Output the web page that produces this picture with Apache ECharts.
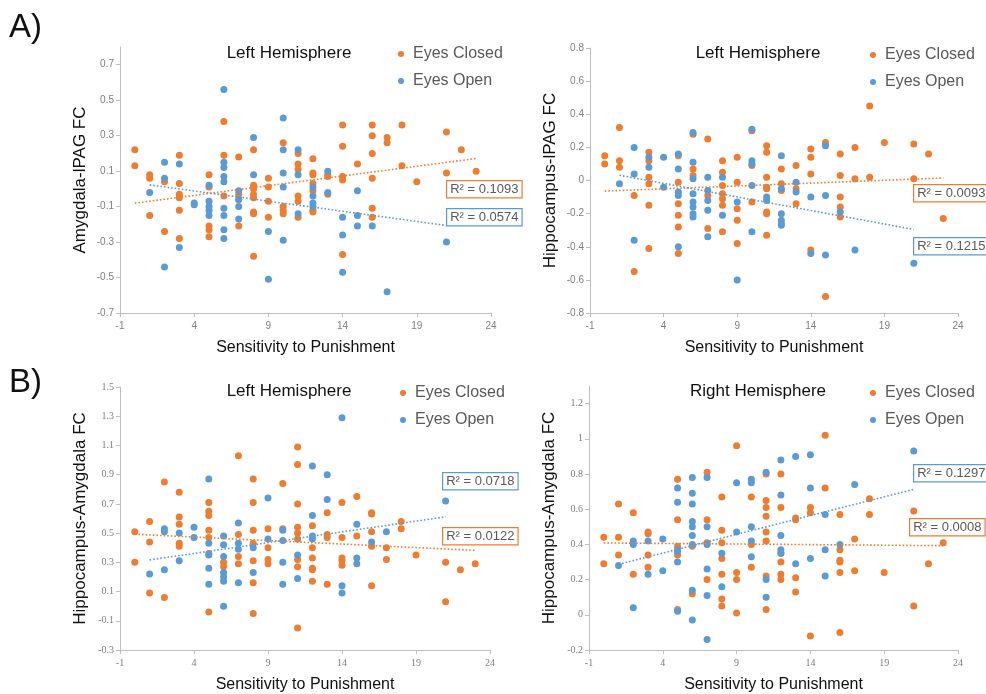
<!DOCTYPE html>
<html>
<head>
<meta charset="utf-8">
<script src="https://cdn.jsdelivr.net/npm/echarts@6/dist/echarts.min.js"></script>
<style>
  html, body { margin: 0; padding: 0; background: #fff; }
  #main { width: 986px; height: 694px; }
</style>
</head>
<body>
<div id="main"></div>
<script>
// ---- data: [sensitivity, FC] ----
var p1Closed = [[0,0.22],[0,0.13],[1,0.08],[1,0.06],[1,-0.15],[2,0.04],[2,-0.24],[3,0.19],[3,0.03],[3,-0.03],[3,-0.05],[3,-0.12],[3,-0.28],[5,0.08],[5,0.01],[5,-0.21],[5,-0.23],[5,-0.27],[6,0.38],[6,0.19],[6,-0.04],[7,0.18],[7,-0.03],[7,-0.06],[7,-0.21],[8,0.22],[8,0.02],[8,0],[8,-0.03],[8,-0.05],[8,-0.13],[8,-0.14],[8,-0.38],[9,0.06],[9,0.01],[9,-0.07],[9,-0.16],[10,0.26],[10,-0.1],[10,-0.12],[10,-0.14],[11,0.2],[11,0.14],[11,0.11],[11,-0.04],[11,-0.07],[11,-0.16],[12,0.17],[12,0.09],[12,0.08],[12,0.03],[12,-0.01],[12,-0.12],[12,-0.13],[13,0.08],[13,0.07],[13,-0.03],[14,0.36],[14,0.24],[14,0.07],[14,0.05],[14,-0.37],[15,0.14],[16,0.36],[16,0.3],[16,0.2],[16,0.06],[16,-0.11],[16,-0.16],[17,0.29],[17,0.26],[18,0.36],[18,0.13],[19,0.04],[21,0.32],[21,0.09],[22,0.22],[23,0.1]];
var p1Open = [[1,-0.02],[2,0.15],[2,0.06],[2,-0.44],[3,0.14],[3,-0.33],[4,-0.08],[4,-0.09],[5,0.02],[5,-0.07],[5,-0.1],[5,-0.12],[5,-0.15],[6,0.56],[6,0.15],[6,0.12],[6,0.07],[6,0.04],[6,-0.11],[6,-0.15],[6,-0.23],[6,-0.28],[7,-0.01],[7,-0.06],[7,-0.1],[7,-0.17],[8,0.29],[8,0.08],[9,-0.24],[9,-0.51],[10,0.4],[10,0.22],[10,0.09],[10,0.01],[10,-0.29],[11,0.22],[11,0.08],[11,-0.14],[12,0.01],[12,-0.04],[12,-0.08],[12,-0.1],[13,0.1],[13,-0.02],[14,-0.16],[14,-0.26],[14,-0.47],[15,-0.01],[15,-0.15],[15,-0.21],[16,-0.21],[17,-0.58],[21,-0.3]];

var p2Closed = [[0,0.15],[0,0.1],[1,0.32],[1,0.12],[1,0.08],[2,-0.09],[2,-0.55],[3,0.17],[3,0.12],[3,0.02],[3,-0.02],[3,-0.15],[3,-0.41],[5,0.15],[5,-0.01],[5,-0.14],[5,-0.21],[5,-0.28],[5,-0.44],[6,0.28],[6,0.07],[6,0.03],[7,0.25],[7,-0.09],[7,-0.29],[8,0.12],[8,0.05],[8,-0.03],[8,-0.08],[8,-0.11],[8,-0.15],[8,-0.31],[9,0.14],[9,-0.01],[9,-0.17],[9,-0.24],[9,-0.38],[10,0.3],[10,0.09],[10,-0.13],[11,0.21],[11,0.17],[11,0.02],[11,-0.04],[11,-0.05],[11,-0.19],[11,-0.2],[11,-0.33],[12,0.07],[12,-0.02],[12,-0.06],[12,-0.26],[13,0.09],[13,-0.05],[13,-0.14],[14,0.19],[14,0.14],[14,0.04],[14,-0.42],[15,0.23],[15,-0.7],[16,0.16],[16,0.03],[16,-0.1],[16,-0.16],[16,-0.22],[17,0.2],[17,0.01],[18,0.45],[18,0.02],[19,0.23],[21,0.22],[21,0.01],[22,0.16],[23,-0.23]];
var p2Open = [[1,-0.02],[2,0.2],[2,0.04],[2,-0.36],[3,0.14],[3,0.08],[4,0.14],[4,-0.04],[5,0.16],[5,0.07],[5,-0.07],[5,-0.09],[5,-0.4],[6,0.29],[6,0.11],[6,0.01],[6,-0.08],[6,-0.13],[6,-0.16],[6,-0.2],[6,-0.22],[7,0.02],[7,-0.06],[7,-0.12],[7,-0.18],[7,-0.34],[8,0.02],[8,-0.21],[9,-0.13],[9,-0.6],[10,0.31],[10,0.12],[10,0.1],[10,-0.03],[10,-0.31],[11,-0.1],[11,-0.12],[12,0.15],[12,-0.05],[12,-0.2],[12,-0.24],[12,-0.27],[13,-0.01],[13,-0.07],[14,-0.1],[14,-0.44],[15,0.21],[15,-0.09],[15,-0.45],[16,-0.19],[17,-0.42],[21,-0.5]];

var p3Closed = [[0,0.51],[0,0.3],[1,0.58],[1,0.44],[1,0.09],[2,0.85],[2,0.06],[3,0.78],[3,0.61],[3,0.56],[3,0.43],[3,0.41],[5,0.71],[5,0.65],[5,0.62],[5,0.52],[5,0.47],[5,0.36],[5,-0.04],[6,0.3],[6,0.27],[7,1.03],[7,0.49],[7,0.34],[7,0.29],[8,0.87],[8,0.71],[8,0.52],[8,0.43],[8,0.31],[8,0.16],[8,-0.05],[9,0.53],[9,0.4],[9,0.32],[9,0.29],[10,0.84],[10,0.53],[11,1.09],[11,0.97],[11,0.7],[11,0.54],[11,0.5],[11,0.46],[11,0.32],[11,0.27],[11,-0.15],[12,0.55],[12,0.4],[12,0.33],[12,0.26],[12,0.25],[12,0.17],[13,0.64],[13,0.49],[13,0.47],[13,0.15],[14,0.71],[14,0.47],[14,0.33],[14,0.31],[14,0.28],[15,0.75],[15,0.48],[16,0.64],[16,0.63],[16,0.51],[16,0.41],[16,0.14],[17,0.4],[17,0.32],[18,0.58],[18,0.53],[19,0.35],[21,0.3],[21,0.03],[22,0.25],[23,0.29]];
var p3Open = [[1,0.22],[2,0.53],[2,0.51],[2,0.25],[3,0.5],[3,0.31],[4,0.54],[4,0.47],[5,0.87],[5,0.43],[5,0.35],[5,0.26],[5,0.15],[6,0.48],[6,0.42],[6,0.34],[6,0.23],[6,0.2],[6,0.17],[6,0],[7,0.57],[7,0.43],[7,0.39],[7,0.16],[8,0.4],[8,0.23],[9,0.74],[9,0.46],[10,0.52],[10,0.45],[10,0.3],[10,0.15],[11,0.35],[11,0.19],[12,0.96],[12,0.62],[12,0.48],[12,0.46],[13,0.9],[13,0.73],[14,1.29],[14,0.14],[14,0.09],[15,0.56],[15,0.33],[15,0.29],[16,0.44],[17,0.51],[21,0.72]];

var p4Closed = [[0,0.44],[0,0.29],[1,0.63],[1,0.44],[1,0.34],[2,0.58],[2,0.23],[3,0.47],[3,0.46],[3,0.34],[3,0.27],[5,0.77],[5,0.54],[5,0.39],[5,0.34],[5,0.03],[6,0.39],[6,0.12],[7,0.81],[7,0.54],[7,0.41],[7,0.2],[8,0.67],[8,0.48],[8,0.41],[8,0.32],[8,0.23],[8,0.09],[8,0.05],[9,0.96],[9,0.24],[9,0.2],[9,0.01],[10,0.67],[10,0.4],[10,0.27],[11,0.8],[11,0.65],[11,0.61],[11,0.56],[11,0.47],[11,0.42],[11,0.22],[11,0.03],[12,0.8],[12,0.61],[12,0.35],[12,0.3],[12,0.23],[12,0.2],[13,0.55],[13,0.54],[13,0.21],[13,0.13],[14,0.61],[14,0.58],[14,-0.12],[15,1.02],[15,0.72],[16,0.57],[16,0.37],[16,0.31],[16,0.3],[16,0.24],[16,-0.1],[17,0.43],[17,0.25],[18,0.66],[18,0.57],[19,0.24],[21,0.59],[21,0.05],[22,0.29],[23,0.41]];
var p4Open = [[1,0.28],[2,0.42],[2,0.4],[2,0.04],[3,0.42],[3,0.23],[4,0.43],[4,0.25],[5,0.72],[5,0.64],[5,0.37],[5,0.36],[5,0.3],[5,0.02],[6,0.78],[6,0.69],[6,0.63],[6,0.53],[6,0.5],[6,0.45],[6,0.4],[6,0.14],[6,-0.03],[7,0.78],[7,0.5],[7,0.4],[7,0.26],[7,0.11],[7,-0.14],[8,0.35],[8,0.16],[9,0.75],[9,0.47],[10,0.77],[10,0.75],[10,0.5],[10,0.42],[10,0.33],[11,0.81],[11,0.2],[11,0.1],[12,0.88],[12,0.68],[12,0.45],[12,0.37],[12,0.35],[13,0.9],[13,0.29],[14,0.91],[14,0.72],[14,0.32],[15,0.57],[15,0.37],[15,0.22],[16,0.4],[17,0.74],[21,0.93]];

var r2Closed = ['0.1093', '0.0093', '0.0122', '0.0008'];
var r2Open = ['0.0574', '0.1215', '0.0718', '0.1297'];

// tick labels
var xTicks = [-1, 4, 9, 14, 19, 24];
var yTicks1 = [-0.7, -0.5, -0.3, -0.1, 0.1, 0.3, 0.5, 0.7];
var yTicks2 = [-0.8, -0.6, -0.4, -0.2, 0, 0.2, 0.4, 0.6, 0.8];
var yTicks3 = [-0.3, -0.1, 0.1, 0.3, 0.5, 0.7, 0.9, 1.1, 1.3, 1.5];
var yTicks4 = [-0.2, 0, 0.2, 0.4, 0.6, 0.8, 1, 1.2];

var ORANGE = '#ED7D31';
var BLUE = '#5B9BD5';
var SANS = '"Liberation Sans", Arial, sans-serif';
var SERIF = '"Liberation Serif", "DejaVu Serif", serif';

/** least squares line over the x range of the series (Excel linear trendline) **/
function trend(pts) {
	var n = pts.length, sx = 0, sy = 0, sxx = 0, sxy = 0, lo = Infinity, hi = -Infinity;
	pts.forEach(function (p) {
		sx += p[0]; sy += p[1]; sxx += p[0] * p[0]; sxy += p[0] * p[1];
		lo = Math.min(lo, p[0]); hi = Math.max(hi, p[0]);
	});
	var b = (n * sxy - sx * sy) / (n * sxx - sx * sx);
	var a = (sy - b * sx) / n;
	return [[lo, a + b * lo], [hi, a + b * hi]];
}

var panels = [
	{ grid: { left: 120, top: 47, width: 371, height: 266 }, yMin: -0.7, yMax: 0.8, yTicks: yTicks1,
	  yName: 'Amygdala-lPAG FC', title: 'Left Hemisphere', closed: p1Closed, open: p1Open, font: SANS,
	  legend: [398, 45], titlePos: [289, 45] },
	{ grid: { left: 590, top: 48, width: 368, height: 265 }, yMin: -0.8, yMax: 0.8, yTicks: yTicks2,
	  yName: 'Hippocampus-lPAG FC', title: 'Left Hemisphere', closed: p2Closed, open: p2Open, font: SANS,
	  legend: [870, 46], titlePos: [758, 45] },
	{ grid: { left: 120, top: 387, width: 370, height: 264 }, yMin: -0.3, yMax: 1.5, yTicks: yTicks3,
	  yName: 'Hippocampus-Amygdala FC', title: 'Left Hemisphere', closed: p3Closed, open: p3Open, font: SERIF,
	  legend: [400, 384], titlePos: [289, 383] },
	{ grid: { left: 589, top: 386, width: 369, height: 265 }, yMin: -0.2, yMax: 1.3, yTicks: yTicks4,
	  yName: 'Hippocampus-Amygdala FC', title: 'Right Hemisphere', closed: p4Closed, open: p4Open, font: SERIF,
	  legend: [870, 384], titlePos: [758, 383] }
];

// R² boxes: [closed box left/top, open box left/top]
var r2Pos = [
	[[446, 180], [446, 208]],
	[[913, 184], [913, 237]],
	[[442, 527], [442, 472]],
	[[909, 518], [913, 464]]
];

var gray = '#bfbfbf';

var option = {
	backgroundColor: '#fff',
	animation: false,
	title: [
		{ text: 'A)', left: 9, top: 11, padding: 0, textStyle: { fontSize: 33, fontWeight: 'normal', color: '#111', fontFamily: SANS } },
		{ text: 'B)', left: 9, top: 366, padding: 0, textStyle: { fontSize: 33, fontWeight: 'normal', color: '#111', fontFamily: SANS } }
	],
	grid: [], xAxis: [], yAxis: [], legend: [], series: [], graphic: []
};

panels.forEach(function (p, i) {
	option.grid.push(p.grid);
	option.title.push({
		text: p.title, left: p.titlePos[0], top: p.titlePos[1], textAlign: 'center', padding: 0,
		textStyle: { fontSize: 17, fontWeight: 'normal', color: '#111', fontFamily: SANS }
	});
	option.xAxis.push({
		type: 'value', gridIndex: i, min: -1, max: 24,
		name: 'Sensitivity to Punishment', nameLocation: 'middle', nameGap: 27,
		nameTextStyle: { fontSize: 16, color: '#111', fontFamily: SANS },
		axisLine: { onZero: false, lineStyle: { color: gray, width: 1 } },
		axisTick: { length: 4, lineStyle: { color: gray }, customValues: xTicks },
		axisLabel: { customValues: xTicks, fontSize: 10, color: '#7f7f7f', fontFamily: p.font, margin: 8 },
		splitLine: { show: false }
	});
	option.yAxis.push({
		type: 'value', gridIndex: i, min: p.yMin, max: p.yMax,
		name: p.yName, nameLocation: 'middle', nameGap: 31,
		nameTextStyle: { fontSize: 17, color: '#111', fontFamily: SANS },
		axisLine: { show: true, onZero: false, lineStyle: { color: gray, width: 1 } },
		axisTick: { show: true, length: 4, lineStyle: { color: gray }, customValues: p.yTicks },
		axisLabel: { customValues: p.yTicks, fontSize: 10, color: '#7f7f7f', fontFamily: p.font, margin: 6 },
		splitLine: { show: false }
	});
	option.legend.push({
		orient: 'vertical', left: p.legend[0], top: p.legend[1], padding: 0,
		icon: 'circle', itemWidth: 14, itemHeight: 6, itemGap: 9,
		textStyle: { fontSize: 16, color: '#595959', fontFamily: SANS, lineHeight: 18 },
		data: ['Eyes Closed', 'Eyes Open']
	});

	option.series.push(
		{ name: 'Eyes Closed', type: 'scatter', xAxisIndex: i, yAxisIndex: i, symbolSize: 7,
		  itemStyle: { color: ORANGE, opacity: 1 }, data: p.closed },
		{ name: 'Eyes Open', type: 'scatter', xAxisIndex: i, yAxisIndex: i, symbolSize: 7,
		  itemStyle: { color: BLUE, opacity: 1 }, data: p.open },
		{ name: 'closed trend', type: 'line', xAxisIndex: i, yAxisIndex: i, showSymbol: false, silent: true,
		  lineStyle: { color: ORANGE, width: 1.6, type: [1.6, 2] }, data: trend(p.closed), z: 3 },
		{ name: 'open trend', type: 'line', xAxisIndex: i, yAxisIndex: i, showSymbol: false, silent: true,
		  lineStyle: { color: BLUE, width: 1.6, type: [1.6, 2] }, data: trend(p.open), z: 3 }
	);

	// R² labels
	[[r2Closed[i], ORANGE, r2Pos[i][0]], [r2Open[i], BLUE, r2Pos[i][1]]].forEach(function (r) {
		option.graphic.push({
			type: 'text', left: r[2][0], top: r[2][1], z: 10,
			style: {
				text: 'R² = ' + r[0], fill: '#595959', font: '13px ' + SANS,
				backgroundColor: '#fff', borderColor: r[1], borderWidth: 1.2, padding: [2, 3, 1, 3]
			}
		});
	});
});

var myChart = echarts.init(document.getElementById('main'));
myChart.setOption(option);
</script>
</body>
</html>
